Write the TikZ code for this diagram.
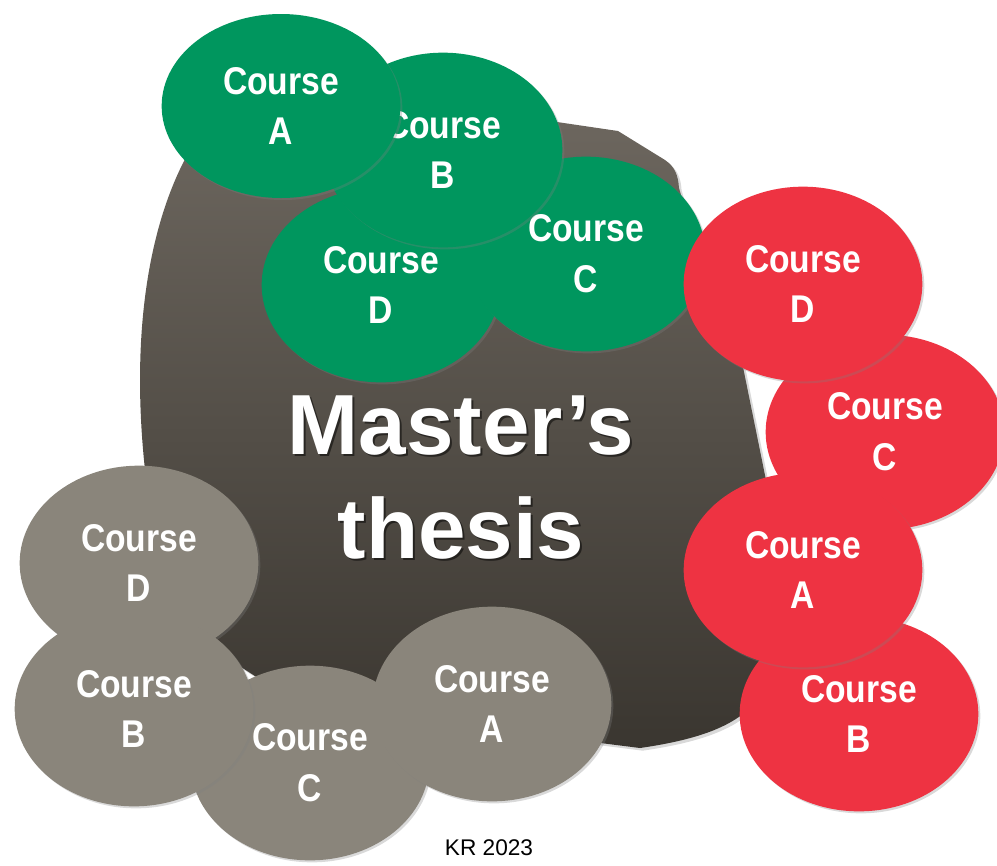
\documentclass[tikz,border=0pt]{standalone}
\usepackage{fontspec}
\setmainfont{Liberation Sans}
\newfontfamily\coursefont{Liberation Sans}[FakeStretch=0.87]
\usetikzlibrary{shapes.geometric,shadows}

\definecolor{crsgreen}{RGB}{0,150,94}
\definecolor{crsred}{RGB}{238,51,66}
\definecolor{crsgrey}{RGB}{138,133,123}
\definecolor{blobtop}{RGB}{108,102,94}
\definecolor{blobbottom}{RGB}{58,54,48}

\tikzset{
  course/.style={ellipse,inner sep=0pt,minimum width=179pt,minimum height=146pt,
    text=white,align=center,font=\coursefont\bfseries\fontsize{29}{38}\selectfont,
    drop shadow={opacity=0.3,shadow xshift=1.5pt,shadow yshift=-1.5pt}},
  coursegreen/.style={course,fill=crsgreen},
  coursered/.style={course,fill=crsred},
  coursegrey/.style={course,fill=crsgrey},
  title/.style={align=center,font=\bfseries\fontsize{64}{78}\selectfont}
}

\begin{document}
\begin{tikzpicture}[x=0.75pt,y=-0.75pt]
    \useasboundingbox (0,0) rectangle (997,865);

    % the thesis
    \path[top color=blobtop,bottom color=blobbottom,
      drop shadow={opacity=0.3,shadow xshift=2pt,shadow yshift=-2pt}]
    (145,470) .. controls (130,330) and (150,220) .. (190,150)
    -- (557,122) -- (618,131) -- (665,160)
    .. controls (675,167) and (678,175) .. (679,188)
    .. controls (700,260) and (725,320) .. (743,367)
    -- (768,490) -- (775,650)
    .. controls (770,710) and (730,735) .. (640,748)
    -- (300,705) -- (230,660) -- (150,560) -- cycle;

    \node[title,text=black,opacity=0.5] (thesisshadow) at (463,480) {Master’s\\thesis};
    \node[title,text=white] (thesis) at (461,478) {Master’s\\thesis};

    % green courses
    \node[coursegreen] (gD) at (381,285) {Course\\D};
    \node[coursegreen] (gC) at (586,254) {Course\\C};
    \node[coursegreen] (gB) at (443,150) {Course\\B};
    \node[coursegreen,minimum height=138pt] (gA) at (281,106) {Course\\A};

    % red courses
    \node[coursered] (rB) at (859,714) {Course\\B};
    \node[coursered] (rC) at (885,432) {Course\\C};
    \node[coursered] (rA) at (803,570) {Course\\A};
    \node[coursered] (rD) at (803,284) {Course\\D};

    % grey courses
    \node[coursegrey] (yC) at (310,763) {Course\\C};
    \node[coursegrey] (yD) at (139,563) {Course\\D};
    \node[coursegrey] (yB) at (134,709) {Course\\B};
    \node[coursegrey] (yA) at (492,704) {Course\\A};

    \node[anchor=base,font=\fontsize{17}{20}\selectfont] (year) at (489,855) {KR 2023};
\end{tikzpicture}
\end{document}
